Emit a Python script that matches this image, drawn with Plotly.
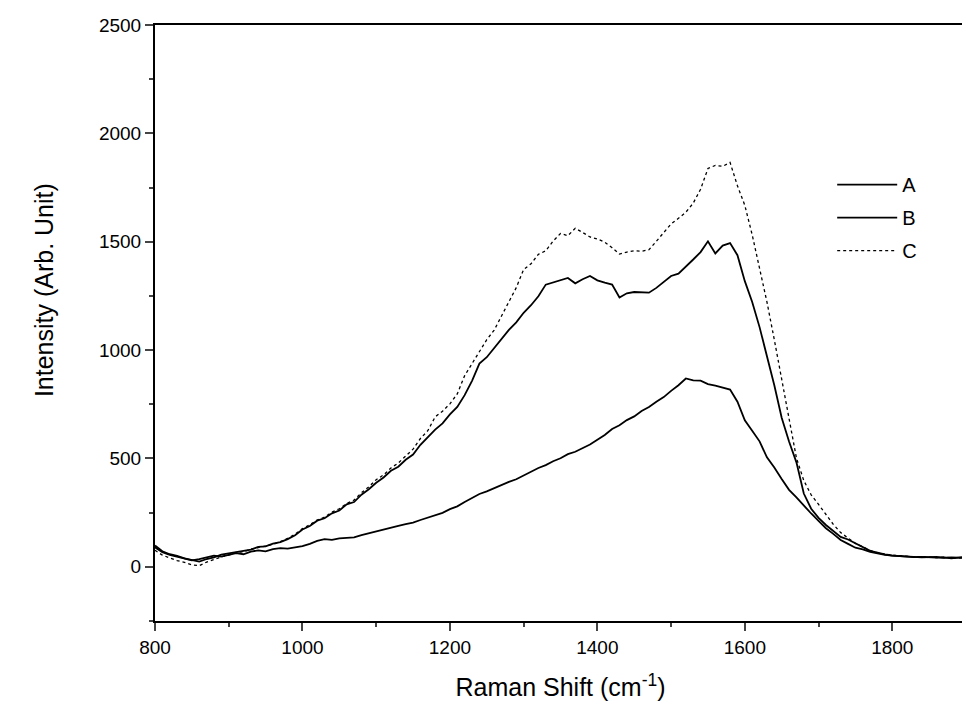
import plotly.graph_objects as go

# Raman shift axis (cm^-1), sampled every 10 cm^-1
shift = list(range(800, 1901, 10))

# Intensity for each sample
intensity_a = [
    90, 68, 55, 47, 38, 30, 36, 44, 52, 47,
    56, 63, 58, 70, 76, 71, 82, 86, 84, 90,
    95, 106, 120, 128, 124, 131, 133, 136, 146, 155,
    165, 171, 183, 189, 197, 204, 216, 227, 241, 249,
    266, 279, 299, 316, 336, 348, 363, 375, 392, 404,
    421, 437, 456, 469, 487, 501, 520, 531, 549, 564,
    586, 608, 636, 653, 677, 694, 719, 737, 762, 783,
    812, 838, 869, 860, 859, 843, 836, 827, 818, 762,
    676, 628, 579, 505, 458, 405, 355, 320, 282, 246,
    212, 178, 152, 124, 106, 88, 80, 69, 62, 55,
    52, 49, 48, 45, 46, 43, 42, 44, 39, 42, 44,
]

intensity_b = [
    98, 72, 58, 51, 39, 30, 24, 36, 44, 56,
    61, 69, 74, 79, 92, 94, 107, 114, 128, 146,
    172, 188, 213, 224, 247, 260, 288, 299, 333, 358,
    388, 412, 443, 462, 494, 518, 563, 598, 633, 662,
    703, 738, 792, 858, 938, 967, 1008, 1047, 1093, 1128,
    1172, 1207, 1248, 1302, 1312, 1322, 1333, 1308, 1327, 1342,
    1322, 1311, 1302, 1243, 1262, 1268, 1266, 1265, 1287, 1313,
    1342, 1353, 1384, 1418, 1452, 1502, 1446, 1482, 1494, 1438,
    1318, 1222, 1106, 978, 838, 688, 578, 482, 338, 268,
    226, 193, 166, 138, 126, 108, 91, 74, 66, 57,
    52, 50, 47, 48, 44, 45, 46, 41, 44, 42, 45,
]

intensity_c = [
    76, 54, 41, 29, 21, 9, 5, 22, 34, 46,
    54, 66, 69, 81, 89, 96, 104, 116, 131, 151,
    176, 194, 216, 229, 252, 268, 292, 308, 342, 369,
    402, 424, 456, 479, 512, 543, 592, 628, 692, 718,
    752, 798, 882, 938, 992, 1048, 1092, 1158, 1218, 1288,
    1372, 1398, 1442, 1458, 1503, 1538, 1528, 1562, 1543, 1522,
    1513, 1498, 1472, 1443, 1452, 1458, 1456, 1463, 1502, 1543,
    1582, 1608, 1636, 1678, 1742, 1838, 1852, 1848, 1866, 1758,
    1668, 1532, 1378, 1222, 1048, 868, 682, 502, 398, 332,
    288, 241, 196, 158, 131, 108, 92, 76, 64, 58,
    54, 51, 47, 46, 47, 44, 42, 45, 41, 40, 43,
]

series_names = ["A", "B", "C"]

font_family = "Liberation Sans, Arial, sans-serif"

fig = go.Figure()

fig.add_trace(go.Scatter(
    x=shift, y=intensity_a, mode="lines", name=series_names[0],
    legendgroup="a", line=dict(color="black", width=1.8),
))
fig.add_trace(go.Scatter(
    x=shift, y=intensity_b, mode="lines", name=series_names[1],
    legendgroup="b", line=dict(color="black", width=1.8),
))
fig.add_trace(go.Scatter(
    x=shift, y=intensity_c, mode="lines", name=series_names[2],
    legendgroup="c", line=dict(color="black", width=1.3, dash="dot"),
))

# y title sits a bit above the plot centre in the original, so it's an annotation
fig.add_annotation(
    text="Intensity (Arb. Unit)",
    xref="paper", yref="paper", x=-0.137, y=0.555,
    xanchor="center", yanchor="middle", textangle=-90,
    showarrow=False, font=dict(size=25),
)

# the page body adds an 8px offset, so the figure is sized to fit the window
fig.update_layout(
    width=962,
    height=708,
    paper_bgcolor="white",
    plot_bgcolor="white",
    margin=dict(l=147, r=2, t=17, b=95),
    font=dict(family=font_family, color="black", size=19),
    legend=dict(
        x=0.835, y=0.765, xanchor="left", yanchor="top",
        bgcolor="rgba(0,0,0,0)",
        font=dict(size=20),
        itemwidth=60,
        tracegroupgap=4,
    ),
    xaxis=dict(
        range=[800, 1900],
        tick0=800, dtick=200,
        ticks="outside", ticklen=8, tickwidth=2,
        minor=dict(dtick=100, ticks="outside", ticklen=4, tickwidth=1.5),
        showline=True, linewidth=2, linecolor="black", mirror=True,
        showgrid=False, zeroline=False,
        tickfont=dict(size=19),
        title=dict(text="Raman Shift (cm<sup>-1</sup>)", font=dict(size=25), standoff=22),
    ),
    yaxis=dict(
        range=[-250, 2500],
        tick0=0, dtick=500,
        ticks="outside", ticklen=8, tickwidth=2,
        minor=dict(dtick=250, ticks="outside", ticklen=4, tickwidth=1.5),
        showline=True, linewidth=2, linecolor="black", mirror=True,
        showgrid=False, zeroline=False,
        tickfont=dict(size=19),
    ),
)

fig.write_html("out.html")
